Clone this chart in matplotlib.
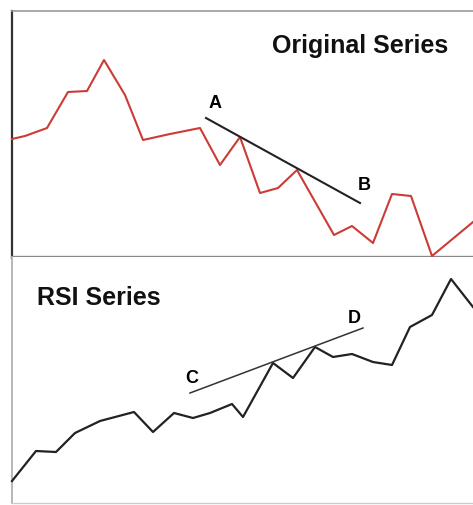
"""
Divergence sketch: price series vs RSI series
"""

import matplotlib
matplotlib.use('Agg')
import matplotlib.pyplot as plt

# Original (price) series
price_x = [12, 25, 47, 68, 87, 104, 125, 143, 170, 200, 220, 240, 260, 278, 297,
           334, 352, 373, 392, 411, 432, 473]
price_y = [118, 121, 129, 165, 166, 197, 162, 117, 123, 129, 92, 120, 64, 69, 87,
           22, 31, 14, 63, 61, 1, 35]

# RSI series
rsi_x = [12, 36, 56, 75, 100, 134, 153, 174, 193, 210, 232, 243, 273, 293, 315,
         333, 352, 373, 392, 410, 432, 451, 473]
rsi_y = [22, 52, 51, 70, 82, 91, 71, 90, 85, 90, 99, 86, 140, 125, 156,
         146, 149, 141, 138, 176, 188, 224, 196]

# trend lines
ab_x = [206, 360]
ab_y = [139, 54]
cd_x = [190, 363]
cd_y = [110, 175]

W, H = 473, 505
plt.rcParams['font.family'] = ['Liberation Sans', 'DejaVu Sans']

fig = plt.figure(figsize=(W / 100, H / 100), dpi=100)
fig.patch.set_facecolor('white')

ax1 = fig.add_axes([12 / W, (H - 257) / H, (W - 12) / W, (257 - 11) / H])
ax2 = fig.add_axes([12 / W, (H - 503) / H, (W - 12) / W, (503 - 257) / H])

for ax in (ax1, ax2):
    ax.set_xlim(12, 473)
    ax.set_ylim(0, 246)
    ax.set_xticks([])
    ax.set_yticks([])
    ax.spines['right'].set_visible(False)

# top panel borders
ax1.spines['left'].set_color('#333333')
ax1.spines['left'].set_linewidth(1.6)
ax1.spines['top'].set_color('#999999')
ax1.spines['top'].set_linewidth(1.2)
ax1.spines['bottom'].set_color('#888888')
ax1.spines['bottom'].set_linewidth(2.4)

# bottom panel borders
ax2.spines['top'].set_visible(False)
ax2.spines['left'].set_color('#aaaaaa')
ax2.spines['left'].set_linewidth(1.2)
ax2.spines['bottom'].set_color('#cccccc')
ax2.spines['bottom'].set_linewidth(1.0)

ax1.plot(price_x, price_y, color='#cc3b36', linewidth=1.5, clip_on=False, zorder=3)
ax1.plot(ab_x, ab_y, color='#222222', linewidth=1.5, zorder=4)
ax1.text(272, 204, 'Original Series', fontsize=18, fontweight='bold',
         ha='left', va='baseline', color='#111111')
ax1.text(215, 149, 'A', fontsize=13, fontweight='bold', ha='center', va='baseline')
ax1.text(364, 67, 'B', fontsize=13, fontweight='bold', ha='center', va='baseline')

ax2.plot(rsi_x, rsi_y, color='#222222', linewidth=1.6, clip_on=False, zorder=3)
ax2.plot(cd_x, cd_y, color='#333333', linewidth=1.1, zorder=4)
ax2.text(37, 198, 'RSI Series', fontsize=18, fontweight='bold',
         ha='left', va='baseline', color='#111111')
ax2.text(192, 120, 'C', fontsize=13, fontweight='bold', ha='center', va='baseline')
ax2.text(354, 180, 'D', fontsize=13, fontweight='bold', ha='center', va='baseline')

plt.savefig('out.png', dpi=100)
plt.close()
